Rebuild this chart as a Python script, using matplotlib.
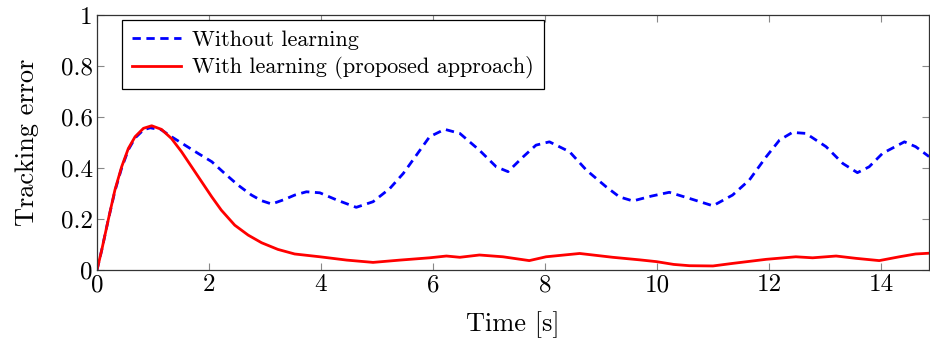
import matplotlib
matplotlib.use("Agg")
import matplotlib.pyplot as plt

# values
t_without = [0, 0.084, 0.2, 0.32, 0.44, 0.56, 0.68, 0.83, 0.95, 1.15, 1.33, 1.57, 1.81,
             2.05, 2.28, 2.52, 2.76, 2.94, 3.12, 3.35, 3.53, 3.74, 3.98, 4.28, 4.63,
             4.93, 5.23, 5.47, 5.64, 5.94, 6.21, 6.48, 6.83, 7.13, 7.34, 7.61, 7.84,
             8.08, 8.44, 8.74, 9.09, 9.33, 9.57, 9.9, 10.22, 10.58, 11.0, 11.35, 11.65,
             11.95, 12.19, 12.42, 12.66, 13.02, 13.32, 13.58, 13.79, 14.03, 14.42,
             14.62, 14.86]
err_without = [0, 0.078, 0.196, 0.31, 0.40, 0.472, 0.518, 0.55, 0.558, 0.55, 0.523,
               0.49, 0.457, 0.425, 0.379, 0.333, 0.294, 0.272, 0.259, 0.277, 0.294,
               0.307, 0.303, 0.275, 0.246, 0.268, 0.32, 0.379, 0.431, 0.523, 0.552,
               0.536, 0.47, 0.405, 0.386, 0.444, 0.49, 0.503, 0.464, 0.392, 0.327,
               0.287, 0.271, 0.29, 0.305, 0.281, 0.252, 0.294, 0.353, 0.444, 0.51,
               0.54, 0.536, 0.484, 0.418, 0.382, 0.405, 0.458, 0.503, 0.484, 0.445]

t_with = [0, 0.084, 0.2, 0.32, 0.44, 0.56, 0.68, 0.83, 0.976, 1.15, 1.33, 1.51, 1.69,
          1.87, 2.05, 2.22, 2.46, 2.70, 2.94, 3.23, 3.53, 3.98, 4.46, 4.93, 5.41, 5.94,
          6.24, 6.48, 6.83, 7.25, 7.72, 8.02, 8.62, 9.21, 9.69, 9.99, 10.3, 10.58,
          11.0, 11.35, 11.95, 12.48, 12.78, 13.2, 13.55, 13.97, 14.33, 14.62, 14.86]
err_with = [0, 0.078, 0.196, 0.314, 0.405, 0.477, 0.523, 0.556, 0.566, 0.552, 0.516,
            0.464, 0.405, 0.346, 0.287, 0.235, 0.176, 0.137, 0.107, 0.081, 0.063,
            0.052, 0.039, 0.030, 0.039, 0.048, 0.055, 0.05, 0.059, 0.052, 0.037,
            0.052, 0.065, 0.05, 0.04, 0.033, 0.022, 0.017, 0.016, 0.026, 0.042,
            0.052, 0.048, 0.055, 0.046, 0.037, 0.052, 0.063, 0.066]

x_ticks = [0, 2, 4, 6, 8, 10, 12, 14]
y_ticks = [0, 0.2, 0.4, 0.6, 0.8, 1]

plt.rcParams["font.family"] = "serif"
plt.rcParams["font.serif"] = ["cmr10"]
plt.rcParams["mathtext.fontset"] = "cm"
plt.rcParams["axes.formatter.use_mathtext"] = True
plt.rcParams["lines.scale_dashes"] = False


def main():
    fig = plt.figure(figsize=(9.3, 3.44), dpi=100)
    ax = fig.add_axes([0.1043, 0.215, 0.8947, 0.741])

    ax.plot(t_without, err_without, color="blue", lw=2.0, dashes=(6, 4),
            label="Without learning")
    ax.plot(t_with, err_with, color="red", lw=2.0, label="With learning (proposed approach)")

    ax.set_xlim(0, 14.86)
    ax.set_ylim(0, 1)
    ax.set_xticks(x_ticks)
    ax.set_yticks(y_ticks)
    ax.set_xticklabels([str(v) for v in x_ticks])
    ax.set_yticklabels(["0", "0.2", "0.4", "0.6", "0.8", "1"])
    ax.tick_params(direction="in", length=5, width=0.8, color="#888888",
                   top=True, right=True, labelsize=18, pad=3)
    for s in ax.spines.values():
        s.set_color("#333333")
        s.set_linewidth(0.9)

    ax.set_xlabel("Time [s]", fontsize=19, labelpad=11)
    ax.set_ylabel("Tracking error", fontsize=19, labelpad=16)

    leg = ax.legend(loc="upper left", bbox_to_anchor=(0.030, 0.980), fontsize=16,
                    frameon=True, fancybox=False, edgecolor="black", framealpha=1,
                    handlelength=2.2, handletextpad=0.5, borderaxespad=0,
                    borderpad=0.45, labelspacing=0.3)
    leg.get_frame().set_linewidth(0.9)

    fig.savefig("out.png", dpi=100)


if __name__ == "__main__":
    main()
